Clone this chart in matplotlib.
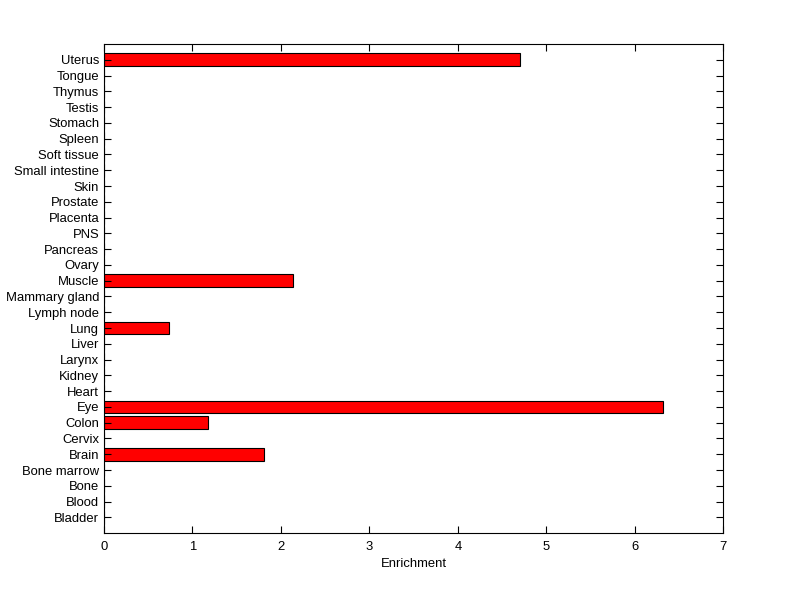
import numpy as np
import matplotlib
matplotlib.use("Agg")
import matplotlib.pyplot as plt

TISSUES = ["Bladder", "Blood", "Bone", "Bone marrow", "Brain", "Cervix",
           "Colon", "Eye", "Heart", "Kidney", "Larynx", "Liver", "Lung",
           "Lymph node", "Mammary gland", "Muscle", "Ovary", "Pancreas",
           "PNS", "Placenta", "Prostate", "Skin", "Small intestine",
           "Soft tissue", "Spleen", "Stomach", "Testis", "Thymus", "Tongue",
           "Uterus"]
ENRICH = [0, 0, 0, 0, 1.81, 0, 1.18, 6.32, 0, 0, 0, 0, 0.74, 0, 0, 2.14,
          0, 0, 0, 0, 0, 0, 0, 0, 0, 0, 0, 0, 0, 4.70]

plt.rcParams.update({"font.family": ["Liberation Sans", "DejaVu Sans"],
                     "font.size": 9})
fig = plt.figure(figsize=(8.0, 5.99), dpi=100)
ax = fig.add_axes([0.13, 0.110, 0.774, 0.8165])

pos = np.arange(1, len(TISSUES) + 1)
ax.barh(pos, ENRICH, height=0.8, color="#ff0000", edgecolor="black",
        linewidth=0.8)

ax.set_xlim(0, 7)
ax.set_ylim(0, len(TISSUES) + 1)
ax.set_yticks(pos)
ax.set_yticklabels(TISSUES)
ax.set_xticks(range(0, 8))
ax.tick_params(direction="in", top=True, right=True, length=5, width=0.8,
               labelsize=9.4)
ax.tick_params(axis="x", pad=6)
for s in ax.spines.values():
    s.set_linewidth(0.8)
ax.set_xlabel("Enrichment", fontsize=9.4, labelpad=3)

fig.savefig("out.png", dpi=100)
